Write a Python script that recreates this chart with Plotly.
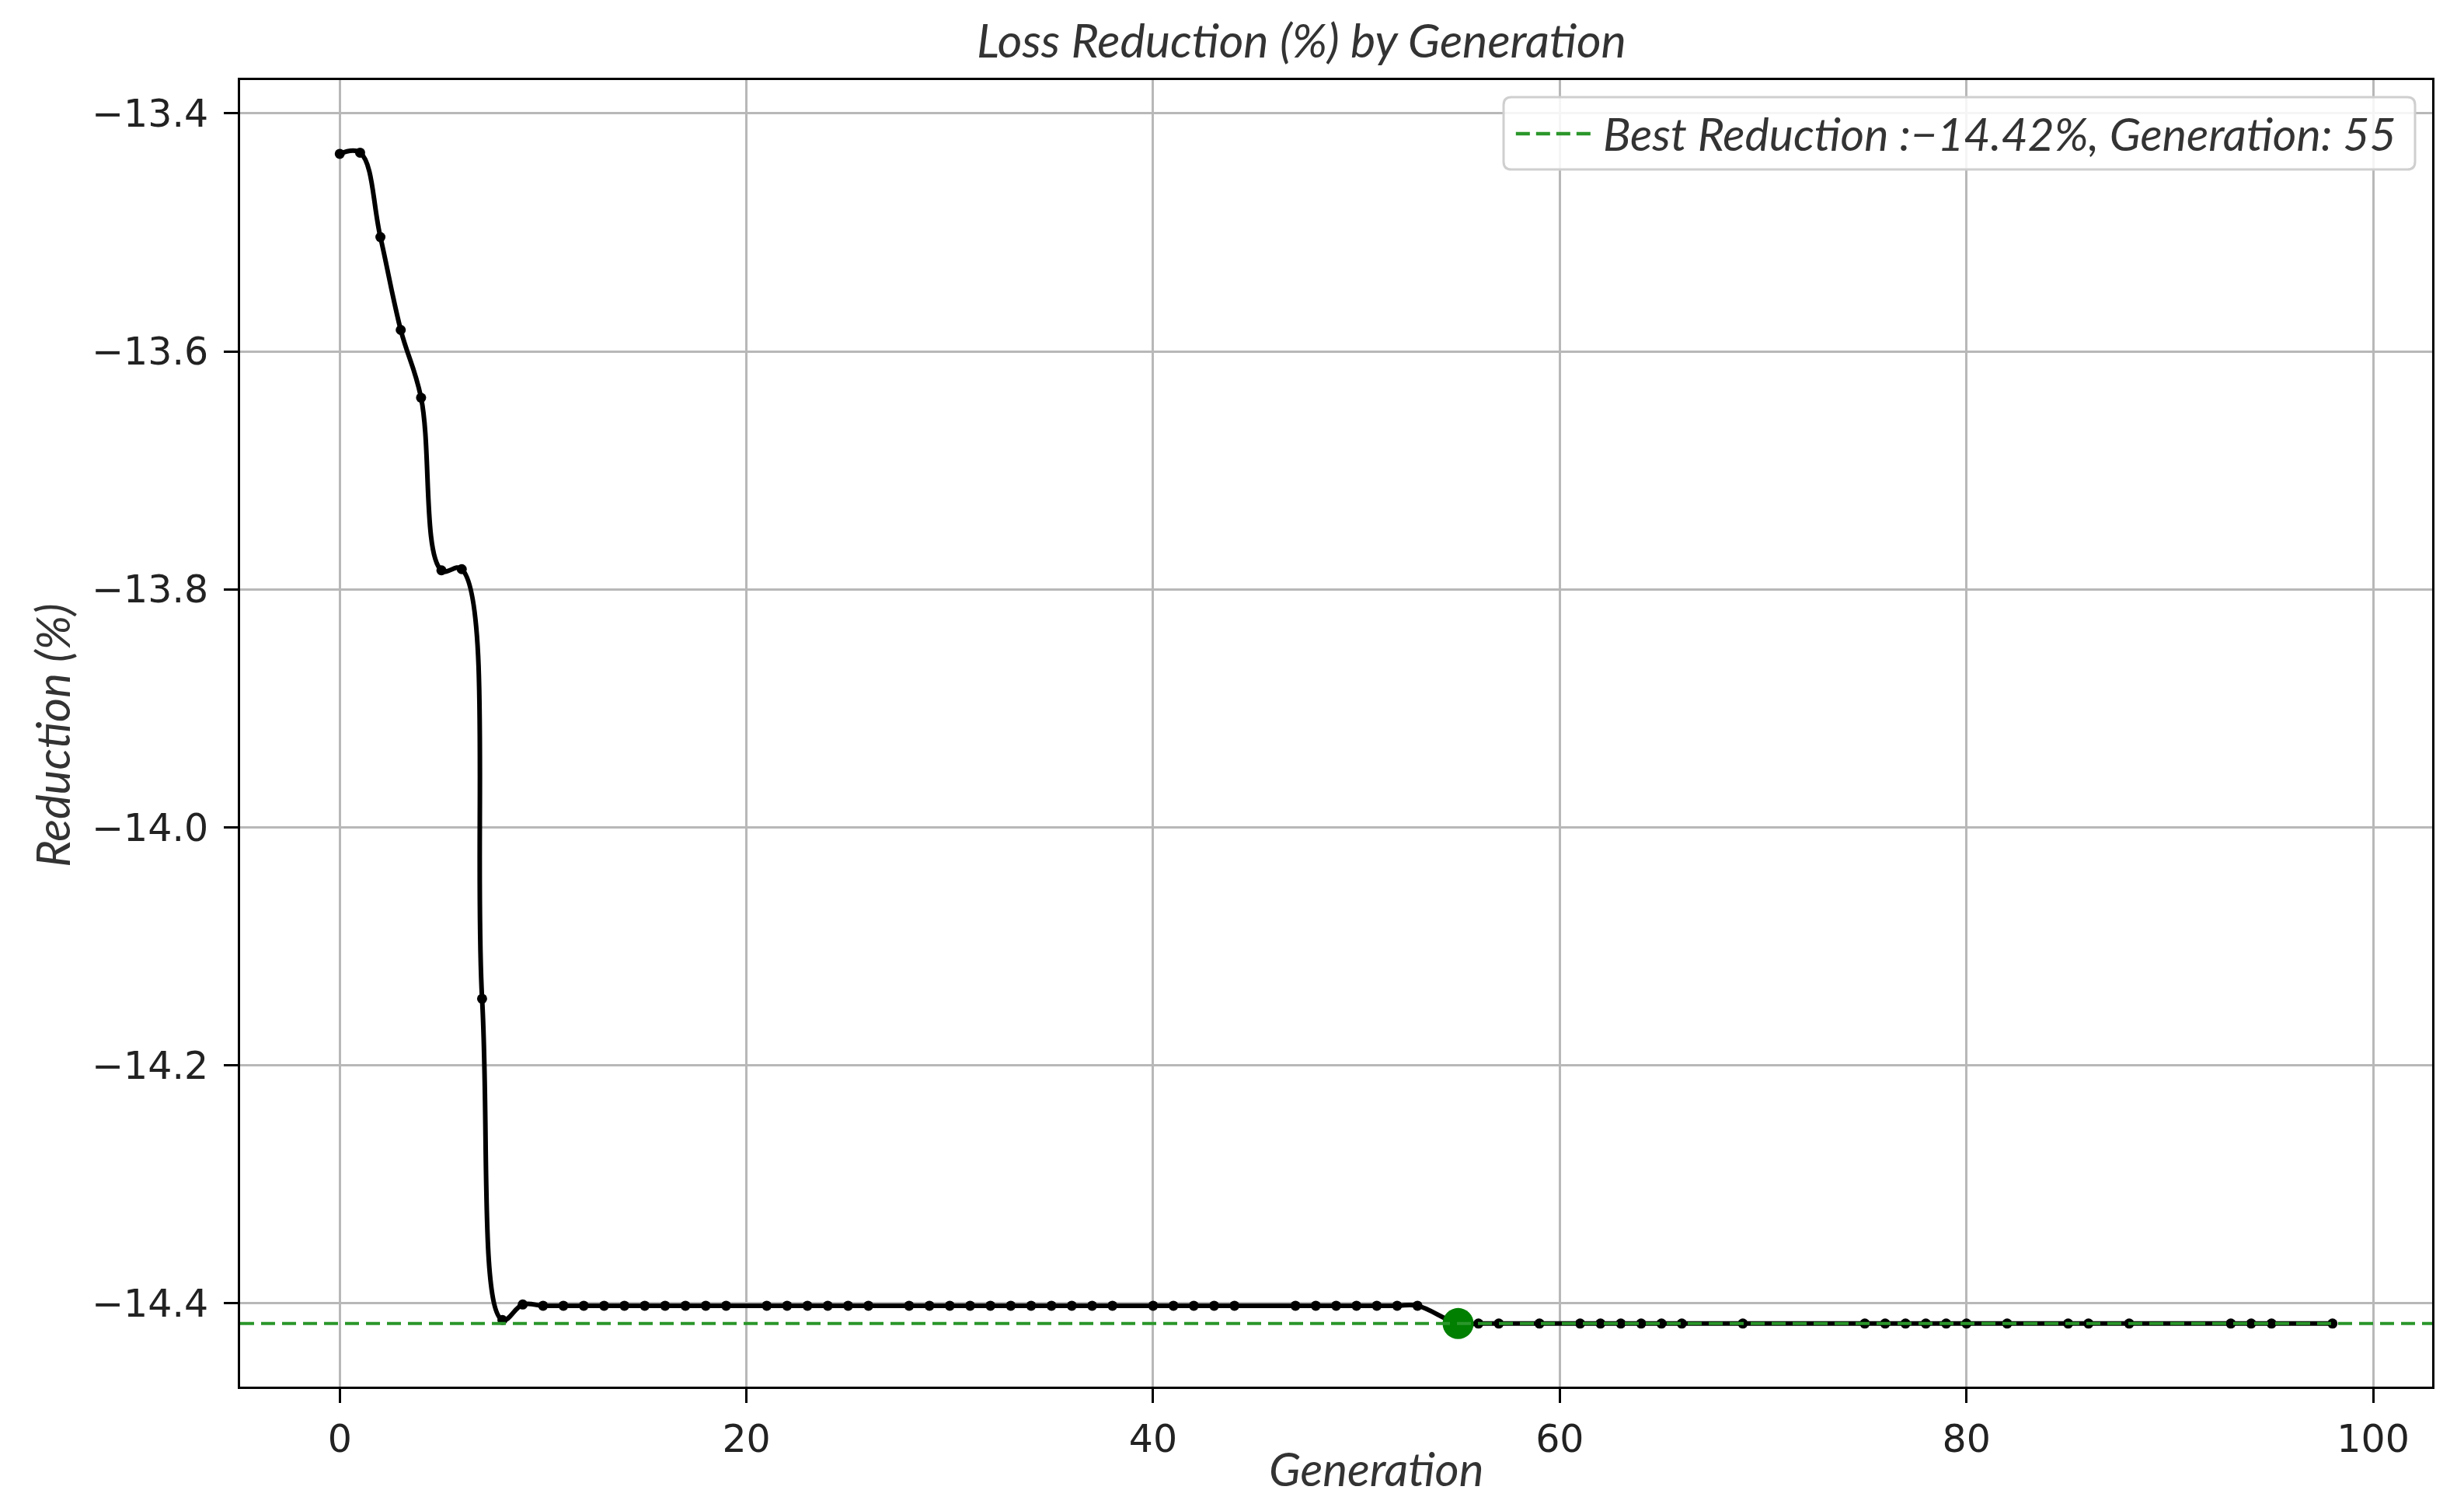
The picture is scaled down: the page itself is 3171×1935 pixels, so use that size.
import plotly.graph_objects as go

# ---------------- data ----------------
generations = [0, 1, 2, 3, 4, 5, 6, 7, 8, 9, 10, 11, 12, 13, 14, 15, 16, 17, 18, 19,
               21, 22, 23, 24, 25, 26, 28, 29, 30, 31, 32, 33, 34, 35, 36, 37, 38,
               40, 41, 42, 43, 44, 47, 48, 49, 50, 51, 52, 53,
               55, 56, 57, 59, 61, 62, 63, 64, 65, 66, 69,
               75, 76, 77, 78, 79, 80, 82, 85, 86, 88, 93, 94, 95, 98]
reduction = ([-13.434, -13.433, -13.504, -13.582, -13.639, -13.784, -13.783, -14.144,
              -14.414, -14.401]
             + [-14.402] * 39
             + [-14.417] * 25)
best_gen = 55
best_val = -14.417

x_ticks = [0, 20, 40, 60, 80, 100]
y_ticks = [-13.4, -13.6, -13.8, -14.0, -14.2, -14.4]

TXT_FONT = "Lato"
TICK_FONT = "DejaVu Sans"
GREEN_LINE = "#2a962a"
GREEN_DOT = "#007f00"

fig = go.Figure()

fig.add_trace(go.Scatter(
    x=generations, y=reduction, mode="lines+markers",
    line=dict(color="black", width=6, shape="spline", smoothing=1.1),
    marker=dict(color="black", size=13),
    showlegend=False, hoverinfo="x+y"))

fig.add_trace(go.Scatter(
    x=[best_gen], y=[best_val], mode="markers",
    marker=dict(color=GREEN_DOT, size=40),
    showlegend=False))

fig.add_hline(y=best_val, line=dict(color=GREEN_LINE, width=4, dash="18px,9px"),
              layer="above")

axis_common = dict(
    showline=True, mirror=True, linecolor="black", linewidth=3,
    ticks="outside", ticklen=18, tickwidth=3, tickcolor="black",
    showgrid=True, gridcolor="#b8b8b8", gridwidth=3, zeroline=False,
    tickfont=dict(family=TICK_FONT, size=49, color="#222222"),
)

fig.update_xaxes(range=[-4.9, 102.9], tickvals=x_ticks, ticktext=[str(v) for v in x_ticks],
                 ticklabelstandoff=4, **axis_common)
fig.update_yaxes(range=[-14.470, -13.372], tickvals=y_ticks, tickformat=".1f",
                 ticklabelstandoff=10, **axis_common)

# manual legend (rounded box, dashed sample, text)
lx0, lx1, ly0, ly1 = 0.5764, 0.9922, 0.9316, 0.9869
rx, ry = 0.0035, 0.006
box_path = (f"M{lx0 + rx},{ly0} L{lx1 - rx},{ly0} Q{lx1},{ly0} {lx1},{ly0 + ry} "
            f"L{lx1},{ly1 - ry} Q{lx1},{ly1} {lx1 - rx},{ly1} "
            f"L{lx0 + rx},{ly1} Q{lx0},{ly1} {lx0},{ly1 - ry} "
            f"L{lx0},{ly0 + ry} Q{lx0},{ly0} {lx0 + rx},{ly0} Z")
fig.add_shape(type="path", xref="paper", yref="paper", path=box_path,
              line=dict(color="#cfcfcf", width=3), fillcolor="rgba(255,255,255,0.85)",
              layer="above")
fig.add_shape(type="line", xref="paper", yref="paper", x0=0.582, x1=0.618, y0=0.959, y1=0.959,
              line=dict(color=GREEN_LINE, width=4.5, dash="18px,8px"), layer="above")
fig.add_annotation(xref="paper", yref="paper", x=0.621, y=0.959, xanchor="left", yanchor="middle",
                   text=f"Best Reduction :\u2212{abs(best_val):.2f}%, Generation: {best_gen}",
                   showarrow=False,
                   font=dict(family=TXT_FONT, size=59, color="#333333", style="italic"))

# axis titles
fig.add_annotation(xref="paper", yref="paper", x=0.5183, y=-0.0625, xanchor="center", yanchor="middle",
                   text="Generation", showarrow=False,
                   font=dict(family=TXT_FONT, size=60, color="#333333", style="italic"))
fig.add_annotation(xref="paper", yref="paper", x=-0.0858, y=0.4985, xanchor="center", yanchor="middle",
                   text="Reduction (%)", showarrow=False, textangle=-90,
                   font=dict(family=TXT_FONT, size=60, color="#333333", style="italic"))

# page body has an 8px margin: size the figure so plot area lands at the reference spot
fig.update_layout(
    width=3155, height=1919,
    margin=dict(l=301, r=33, t=95, b=143),
    paper_bgcolor="white", plot_bgcolor="white",
    title=dict(text="Loss Reduction (%) by Generation", xref="container", yref="container",
               x=(1675 - 8) / 3155, y=1 - (53 - 8) / 1919, xanchor="center", yanchor="middle",
               font=dict(family=TXT_FONT, size=61, color="#333333", style="italic")),
    showlegend=False,
)

fig.write_html("out.html")
